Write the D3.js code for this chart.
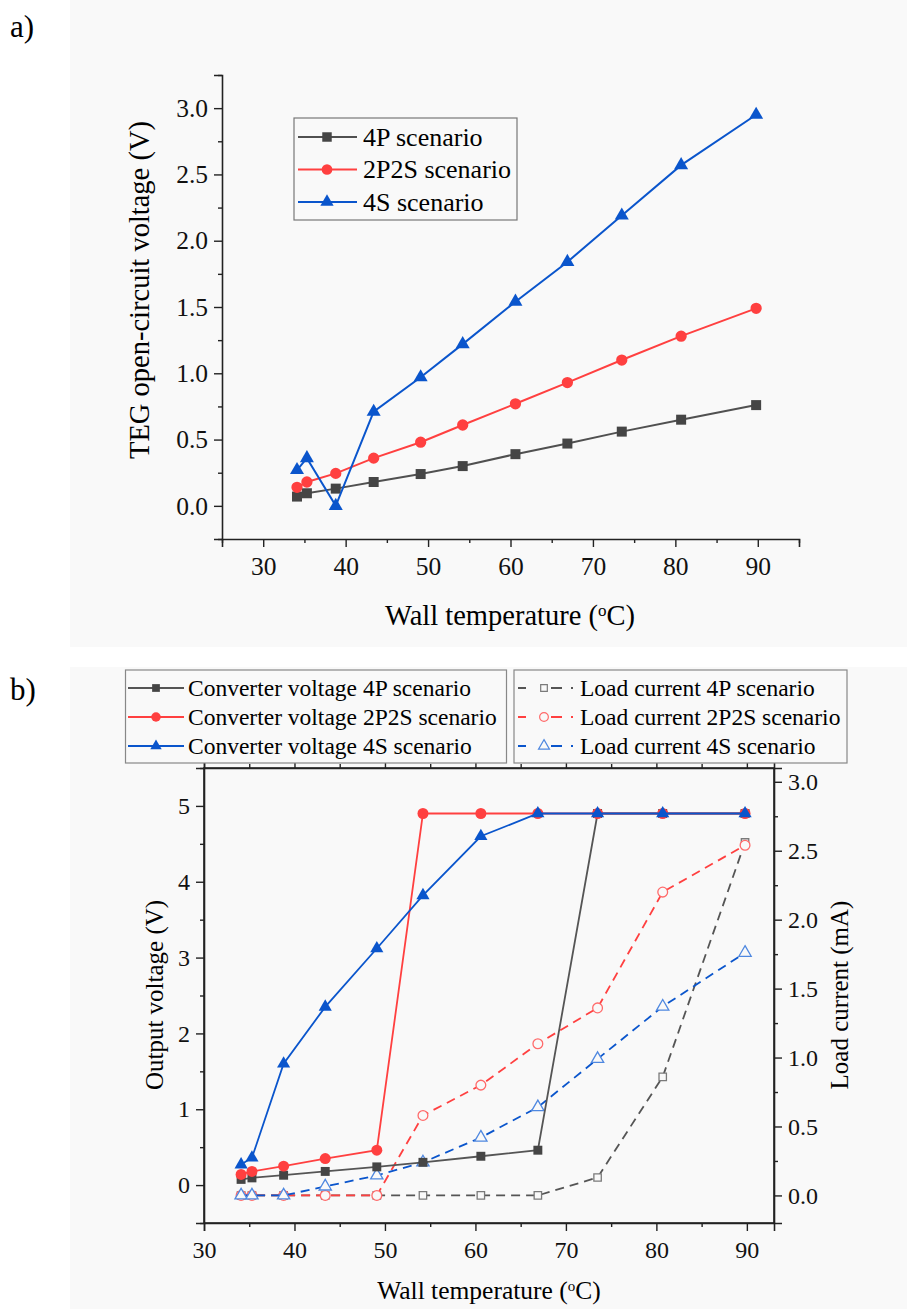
<!DOCTYPE html>
<html>
<head>
<meta charset="utf-8">
<script src="https://cdn.jsdelivr.net/npm/d3@7"></script>
<style>
  body { margin: 0; background: #fff; }
  svg { display: block; font-family: "Liberation Serif", "Times New Roman", serif; }
</style>
</head>
<body>
<svg id="chart" width="907" height="1309"></svg>
<script>
// wall temperature (oC), shared by both panels
var temps = [34.1, 35.3, 38.8, 43.4, 49.1, 54.2, 60.6, 66.9, 73.5, 80.7, 89.8];

// panel a: TEG open-circuit voltage (V)
var ocv4P   = [0.07, 0.095, 0.13, 0.18, 0.24, 0.30, 0.39, 0.47, 0.56, 0.65, 0.76];
var ocv2P2S = [0.14, 0.18, 0.245, 0.36, 0.48, 0.61, 0.77, 0.93, 1.10, 1.28, 1.49];
var ocv4S   = [0.27, 0.36, 0.0, 0.71, 0.97, 1.22, 1.54, 1.84, 2.19, 2.57, 2.95];

// panel b: converter output voltage (V)
var conv4P   = [0.075, 0.095, 0.13, 0.18, 0.24, 0.30, 0.38, 0.46, 4.9, 4.9, 4.9];
var conv2P2S = [0.14, 0.18, 0.25, 0.35, 0.46, 4.9, 4.9, 4.9, 4.9, 4.9, 4.9];
var conv4S   = [0.27, 0.36, 1.6, 2.35, 3.12, 3.82, 4.6, 4.9, 4.9, 4.9, 4.9];

// panel b: load current (mA)
var load4P   = [0, 0, 0, 0, 0, 0, 0, 0, 0.13, 0.86, 2.56];
var load2P2S = [0, 0, 0, 0, 0, 0.58, 0.80, 1.10, 1.36, 2.20, 2.54];
var load4S   = [0, 0, 0, 0.065, 0.145, 0.24, 0.42, 0.64, 0.99, 1.37, 1.76];

// tick labels
var tempTicks = [30, 40, 50, 60, 70, 80, 90];
var ocvTicks = [0, 0.5, 1.0, 1.5, 2.0, 2.5, 3.0];
var voltTicks = [0, 1, 2, 3, 4, 5];
var currentTicks = [0, 0.5, 1.0, 1.5, 2.0, 2.5, 3.0];

// legend labels
var legendA = ["4P scenario", "2P2S scenario", "4S scenario"];
var legendConv = ["Converter voltage 4P scenario", "Converter voltage 2P2S scenario", "Converter voltage 4S scenario"];
var legendLoad = ["Load current 4P scenario", "Load current 2P2S scenario", "Load current 4S scenario"];

var BG = "#f9f9f9";
var GRAY = "#454545", RED = "#ff4040", BLUE = "#0a55cc";
var GRAY_O = "#7a7a7a", RED_O = "#ff6b6b", BLUE_O = "#4f88e0";

var svg = d3.select("#chart");

svg.append("rect").attr("x", 70).attr("y", 0).attr("width", 837).attr("height", 647).attr("fill", BG);
svg.append("rect").attr("x", 70).attr("y", 667).attr("width", 837).attr("height", 642).attr("fill", BG);

svg.append("text").attr("x", 10).attr("y", 37).attr("font-size", 31).text("a)");
svg.append("text").attr("x", 10).attr("y", 700).attr("font-size", 31).text("b)");

var symbols = { square: d3.symbolSquare, circle: d3.symbolCircle, triangle: d3.symbolTriangle };

function range(a, b, step) {
  return d3.range(a, b + step / 2, step);
}

function styleAxis(g, fontSize) {
  g.select(".domain").attr("stroke", "#222").attr("stroke-width", 1.6);
  g.selectAll(".tick line").attr("stroke", "#222").attr("stroke-width", 1.4);
  g.selectAll(".tick text").attr("font-size", fontSize).attr("fill", "#111")
    .attr("font-family", "Liberation Serif, Times New Roman, serif");
}

function minorAxis(g, axis, ticks) {
  g.call(axis.tickValues(ticks).tickSize(4).tickFormat(""));
  g.select(".domain").remove();
  g.selectAll(".tick line").attr("stroke", "#222").attr("stroke-width", 1.4);
}

function drawSeries(g, x, y, vals, opt) {
  var line = d3.line()
    .x(function(d, i) { return x(temps[i]); })
    .y(function(d) { return y(d); });

  g.append("path")
    .datum(vals)
    .attr("fill", "none")
    .attr("stroke", opt.line)
    .attr("stroke-width", opt.width || 2)
    .attr("stroke-dasharray", opt.dash || null)
    .attr("d", line);

  g.selectAll(null)
    .data(vals)
    .enter()
    .append("path")
    .attr("transform", function(d, i) { return "translate(" + x(temps[i]) + "," + y(d) + ")"; })
    .attr("d", d3.symbol().type(symbols[opt.shape]).size(opt.size))
    .attr("fill", opt.open ? BG : opt.color)
    .attr("stroke", opt.color)
    .attr("stroke-width", opt.open ? 1.3 : 0);
}

function legendMarker(g, cx, cy, shape, size, color, open) {
  g.append("path")
    .attr("transform", "translate(" + cx + "," + cy + ")")
    .attr("d", d3.symbol().type(symbols[shape]).size(size))
    .attr("fill", open ? BG : color)
    .attr("stroke", color)
    .attr("stroke-width", open ? 1.2 : 0);
}

/* ---------- panel a ---------- */
var xa = d3.scaleLinear().domain([25, 95]).range([222, 799]);
var ya = d3.scaleLinear().domain([-0.25, 3.25]).range([539, 75]);

var ga = svg.append("g");

ga.append("g").attr("transform", "translate(0,539)")
  .call(d3.axisBottom(xa).tickValues(tempTicks).tickSize(8).tickPadding(10).tickFormat(d3.format("d")))
  .call(styleAxis, 25.5);
ga.append("g").attr("transform", "translate(0,539)")
  .call(minorAxis, d3.axisBottom(xa), range(25, 95, 10));

ga.append("g").attr("transform", "translate(222,0)")
  .call(d3.axisLeft(ya).tickValues(ocvTicks).tickSize(8).tickPadding(6).tickFormat(d3.format(".1f")))
  .call(styleAxis, 25.5);
ga.append("g").attr("transform", "translate(222,0)")
  .call(minorAxis, d3.axisLeft(ya), range(-0.25, 3.25, 0.5));

var seriesA = [
  { vals: ocv4P, color: GRAY, line: "#505050", shape: "square", size: 100 },
  { vals: ocv2P2S, color: RED, line: RED, shape: "circle", size: 100 },
  { vals: ocv4S, color: BLUE, line: BLUE, shape: "triangle", size: 85 }
];
seriesA.forEach(function(s) { drawSeries(ga, xa, ya, s.vals, s); });

ga.append("text")
  .attr("x", 510).attr("y", 625)
  .attr("text-anchor", "middle")
  .attr("font-size", 28.5)
  .html("Wall temperature (<tspan baseline-shift='super' font-size='17'>o</tspan>C)");

ga.append("text")
  .attr("transform", "translate(149,290) rotate(-90)")
  .attr("text-anchor", "middle")
  .attr("font-size", 28.5)
  .text("TEG open-circuit voltage (V)");

var legA = ga.append("g");
legA.append("rect").attr("x", 294).attr("y", 118).attr("width", 223).attr("height", 102)
  .attr("fill", BG).attr("stroke", "#777").attr("stroke-width", 1.2);
legendA.forEach(function(label, i) {
  var cy = 137 + i * 32.5;
  var s = seriesA[i];
  legA.append("line").attr("x1", 298).attr("x2", 357).attr("y1", cy).attr("y2", cy)
    .attr("stroke", s.line).attr("stroke-width", 2);
  legendMarker(legA, 327, cy, s.shape, s.size * 0.9, s.color, false);
  legA.append("text").attr("x", 363).attr("y", cy + 8.5).attr("font-size", 26).text(label);
});

/* ---------- panel b ---------- */
var xb = d3.scaleLinear().domain([30, 93]).range([204, 774]);
var yl = d3.scaleLinear().domain([-0.5, 5.5]).range([1223, 768]);
var yr = d3.scaleLinear().domain([-0.2, 3.1]).range([1223, 768]);

var gb = svg.append("g");

gb.append("rect").attr("x", 204).attr("y", 768).attr("width", 570).attr("height", 455)
  .attr("fill", "none").attr("stroke", "#222").attr("stroke-width", 1.6);

gb.append("g").attr("transform", "translate(0,1223)")
  .call(d3.axisBottom(xb).tickValues(tempTicks).tickSize(8).tickPadding(10).tickFormat(d3.format("d")))
  .call(styleAxis, 24);
gb.append("g").attr("transform", "translate(0,1223)")
  .call(minorAxis, d3.axisBottom(xb), range(35, 85, 10));

gb.append("g").attr("transform", "translate(0,768)")
  .call(d3.axisTop(xb).tickValues(tempTicks).tickSize(8).tickFormat(""))
  .call(styleAxis, 24);
gb.append("g").attr("transform", "translate(0,768)")
  .call(minorAxis, d3.axisTop(xb), range(35, 85, 10));

gb.append("g").attr("transform", "translate(204,0)")
  .call(d3.axisLeft(yl).tickValues(voltTicks).tickSize(8).tickPadding(6).tickFormat(d3.format("d")))
  .call(styleAxis, 24);
gb.append("g").attr("transform", "translate(204,0)")
  .call(minorAxis, d3.axisLeft(yl), range(-0.5, 5.5, 1));

gb.append("g").attr("transform", "translate(774,0)")
  .call(d3.axisRight(yr).tickValues(currentTicks).tickSize(8).tickPadding(6).tickFormat(d3.format(".1f")))
  .call(styleAxis, 24);
gb.append("g").attr("transform", "translate(774,0)")
  .call(minorAxis, d3.axisRight(yr), range(0.25, 2.75, 0.5));

var loadSeries = [
  { vals: load4P, color: GRAY_O, line: "#555", shape: "square", size: 55, open: true, dash: "9,6", width: 1.8 },
  { vals: load2P2S, color: RED_O, line: RED, shape: "circle", size: 75, open: true, dash: "9,6", width: 1.8 },
  { vals: load4S, color: BLUE_O, line: BLUE, shape: "triangle", size: 65, open: true, dash: "9,6", width: 1.8 }
];
var convSeries = [
  { vals: conv4P, color: GRAY, line: "#555", shape: "square", size: 80, width: 1.8 },
  { vals: conv2P2S, color: RED, line: RED, shape: "circle", size: 95, width: 1.8 },
  { vals: conv4S, color: BLUE, line: BLUE, shape: "triangle", size: 75, width: 1.8 }
];
loadSeries.forEach(function(s) { drawSeries(gb, xb, yr, s.vals, s); });
convSeries.forEach(function(s) { drawSeries(gb, xb, yl, s.vals, s); });

gb.append("text")
  .attr("x", 489).attr("y", 1299)
  .attr("text-anchor", "middle")
  .attr("font-size", 25.5)
  .html("Wall temperature (<tspan baseline-shift='super' font-size='15'>o</tspan>C)");

gb.append("text")
  .attr("transform", "translate(163,995) rotate(-90)")
  .attr("text-anchor", "middle")
  .attr("font-size", 25)
  .text("Output voltage (V)");

gb.append("text")
  .attr("transform", "translate(848,995) rotate(-90)")
  .attr("text-anchor", "middle")
  .attr("font-size", 25)
  .text("Load current (mA)");

// legends above the plot
var legB = gb.append("g");
legB.append("rect").attr("x", 125.5).attr("y", 670).attr("width", 381).attr("height", 93)
  .attr("fill", BG).attr("stroke", "#888").attr("stroke-width", 1.2);
legB.append("rect").attr("x", 514).attr("y", 670).attr("width", 333).attr("height", 93)
  .attr("fill", BG).attr("stroke", "#888").attr("stroke-width", 1.2);

legendConv.forEach(function(label, i) {
  var cy = 688 + i * 29;
  var s = convSeries[i];
  legB.append("line").attr("x1", 128).attr("x2", 184).attr("y1", cy).attr("y2", cy)
    .attr("stroke", s.line).attr("stroke-width", 2);
  legendMarker(legB, 156, cy, s.shape, s.size * 0.75, s.color, false);
  legB.append("text").attr("x", 188).attr("y", cy + 8).attr("font-size", 23.5).text(label);
});

legendLoad.forEach(function(label, i) {
  var cy = 688 + i * 29;
  var s = loadSeries[i];
  legB.append("line").attr("x1", 518).attr("x2", 526).attr("y1", cy).attr("y2", cy)
    .attr("stroke", s.line).attr("stroke-width", 2);
  legB.append("line").attr("x1", 551).attr("x2", 562).attr("y1", cy).attr("y2", cy)
    .attr("stroke", s.line).attr("stroke-width", 2);
  legB.append("line").attr("x1", 571).attr("x2", 573).attr("y1", cy).attr("y2", cy)
    .attr("stroke", s.line).attr("stroke-width", 2);
  legendMarker(legB, 544, cy, s.shape, s.size * 0.8, s.color, true);
  legB.append("text").attr("x", 580).attr("y", cy + 8).attr("font-size", 23.5).text(label);
});
</script>
</body>
</html>
